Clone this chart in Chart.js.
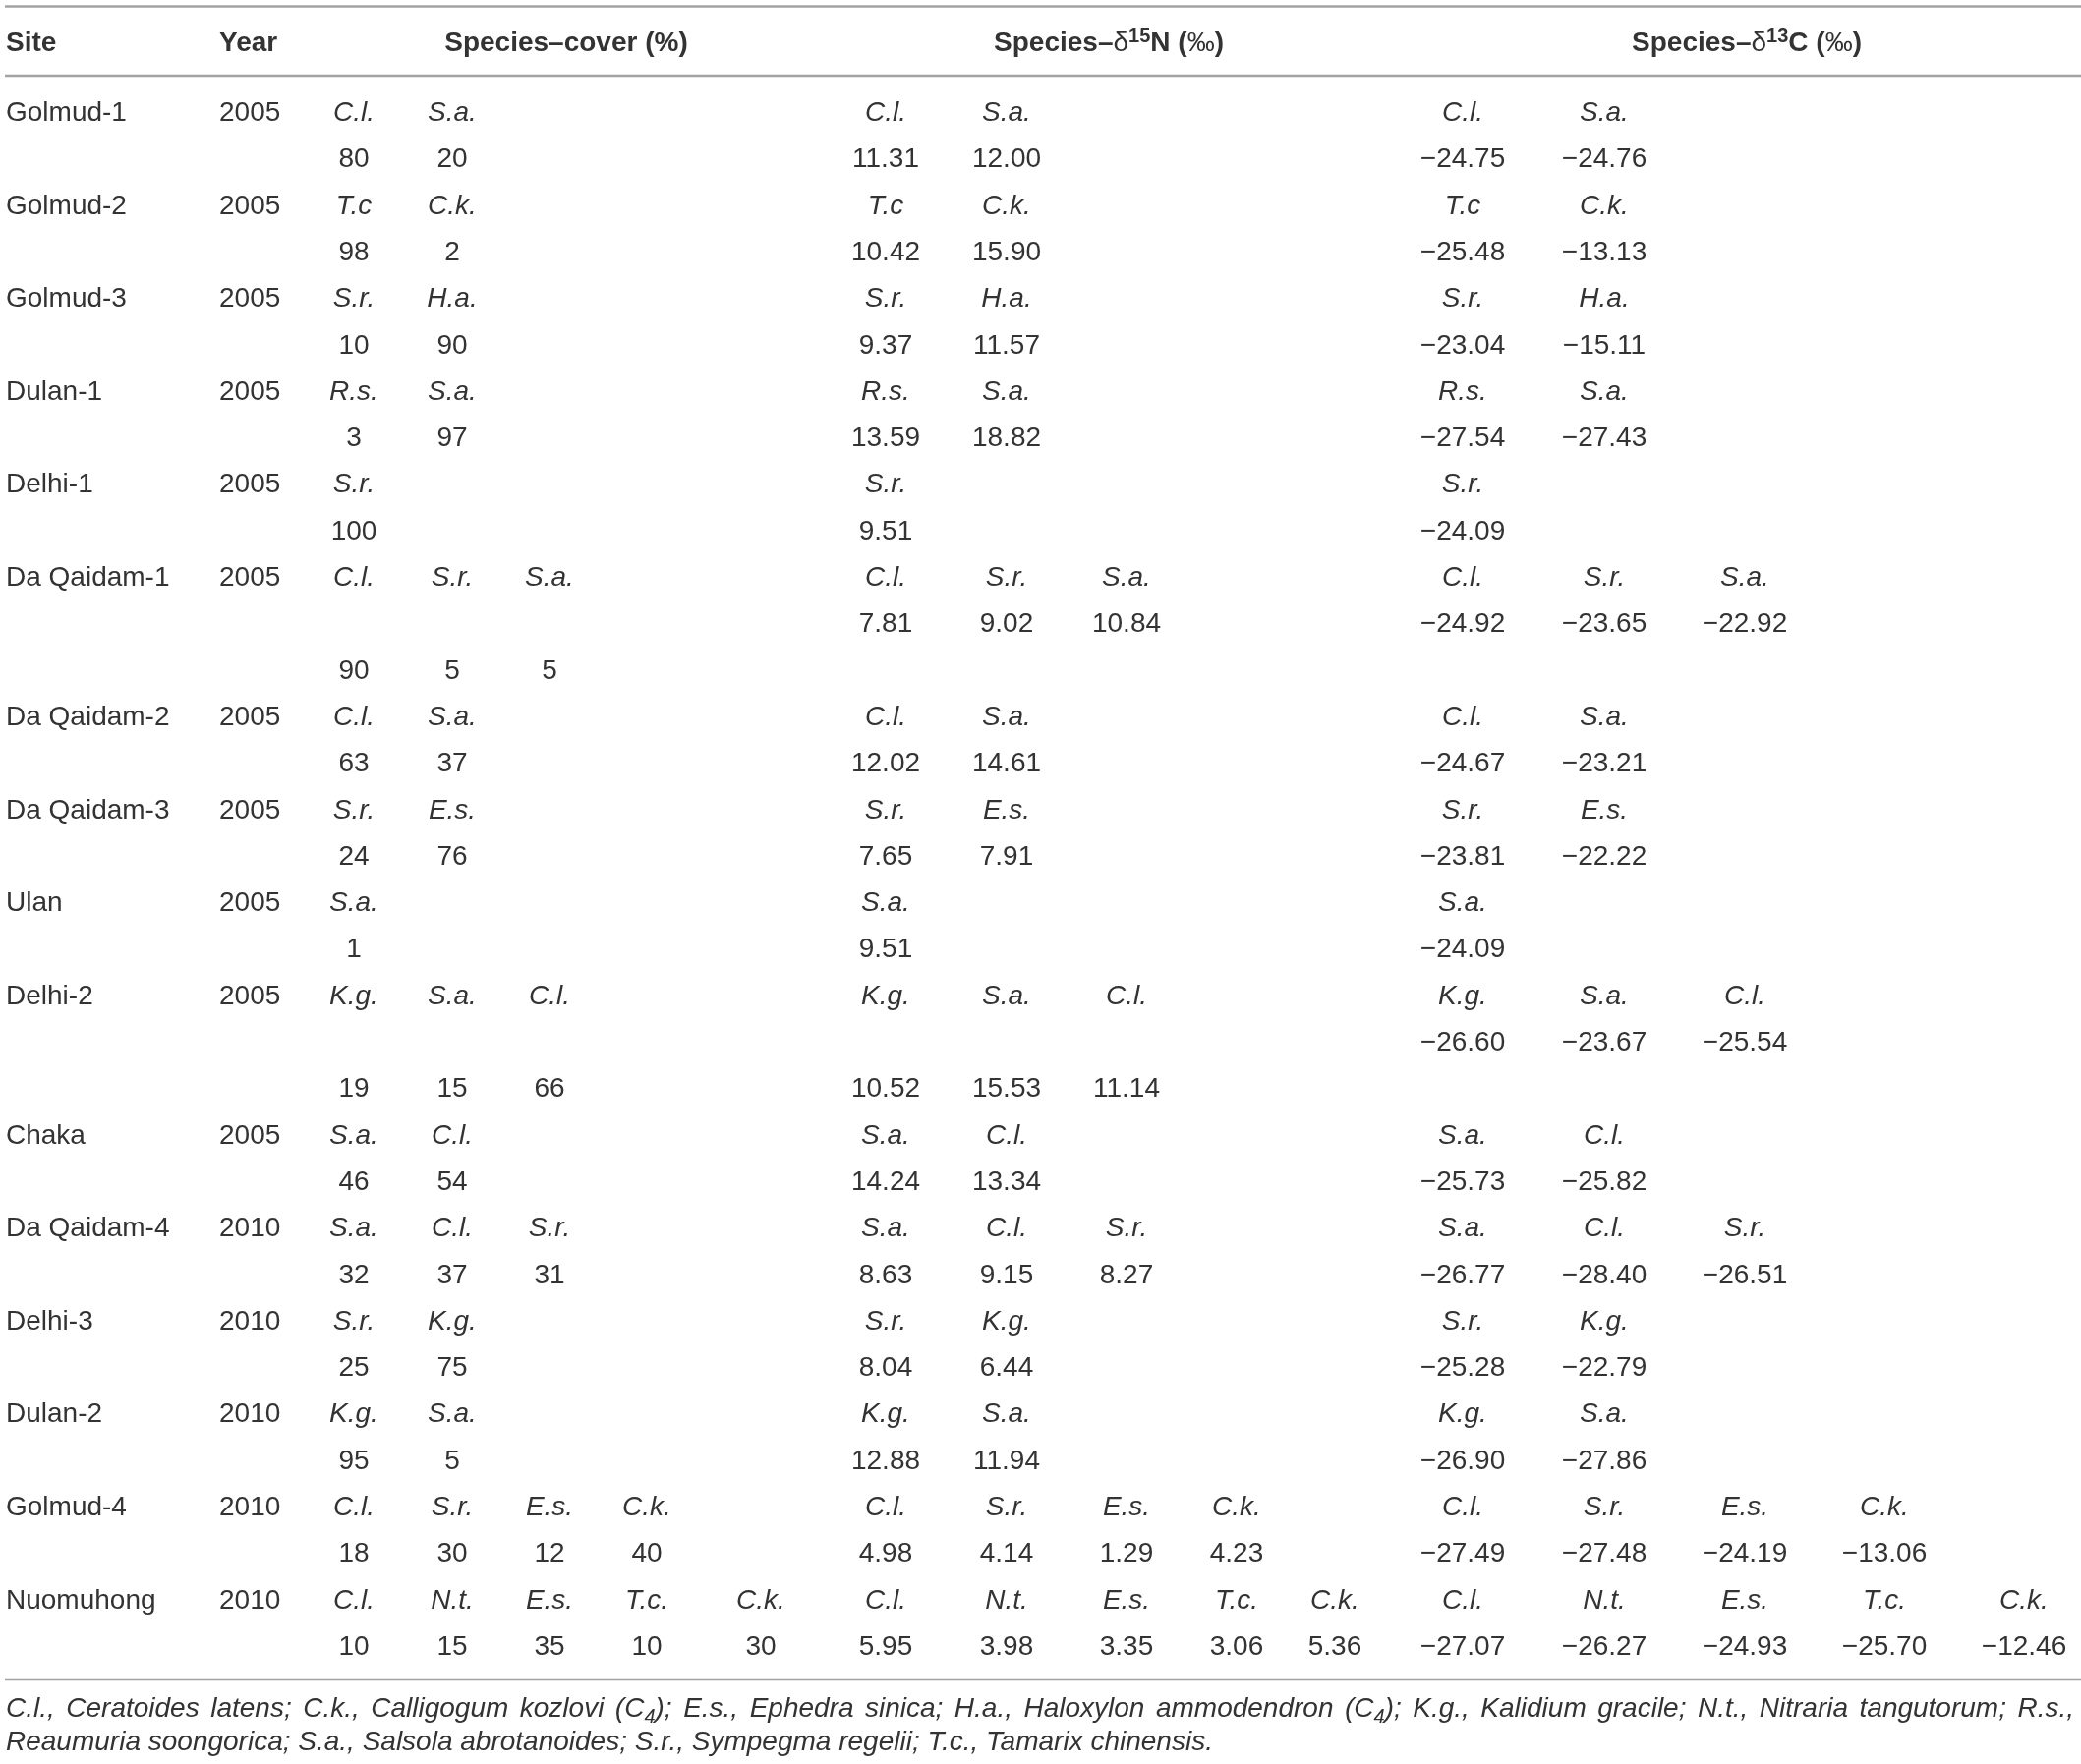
<!DOCTYPE html>
<html>
<head>
<meta charset="utf-8">
<script src="https://cdn.jsdelivr.net/npm/chart.js@4.4.1/dist/chart.umd.min.js"></script>
<style>
  html, body { margin: 0; padding: 0; background: #fff; overflow: hidden; }
  canvas { display: block; }
</style>
</head>
<body>
<canvas id="tableChart" width="2117" height="1795"></canvas>
<script>
// ---- table data ----
const sites = ["Golmud-1", "Golmud-2", "Golmud-3", "Dulan-1", "Delhi-1", "Da Qaidam-1", "Da Qaidam-2",
  "Da Qaidam-3", "Ulan", "Delhi-2", "Chaka", "Da Qaidam-4", "Delhi-3", "Dulan-2", "Golmud-4", "Nuomuhong"];
const years = [2005, 2005, 2005, 2005, 2005, 2005, 2005, 2005, 2005, 2005, 2005, 2010, 2010, 2010, 2010, 2010];
const species = [
  ["C.l.", "S.a."], ["T.c", "C.k."], ["S.r.", "H.a."], ["R.s.", "S.a."], ["S.r."],
  ["C.l.", "S.r.", "S.a."], ["C.l.", "S.a."], ["S.r.", "E.s."], ["S.a."], ["K.g.", "S.a.", "C.l."],
  ["S.a.", "C.l."], ["S.a.", "C.l.", "S.r."], ["S.r.", "K.g."], ["K.g.", "S.a."],
  ["C.l.", "S.r.", "E.s.", "C.k."], ["C.l.", "N.t.", "E.s.", "T.c.", "C.k."]
];
const coverPct = [
  [80, 20], [98, 2], [10, 90], [3, 97], [100], [90, 5, 5], [63, 37], [24, 76], [1], [19, 15, 66],
  [46, 54], [32, 37, 31], [25, 75], [95, 5], [18, 30, 12, 40], [10, 15, 35, 10, 30]
];
const d15N = [
  [11.31, 12.00], [10.42, 15.90], [9.37, 11.57], [13.59, 18.82], [9.51], [7.81, 9.02, 10.84],
  [12.02, 14.61], [7.65, 7.91], [9.51], [10.52, 15.53, 11.14], [14.24, 13.34], [8.63, 9.15, 8.27],
  [8.04, 6.44], [12.88, 11.94], [4.98, 4.14, 1.29, 4.23], [5.95, 3.98, 3.35, 3.06, 5.36]
];
const d13C = [
  [-24.75, -24.76], [-25.48, -13.13], [-23.04, -15.11], [-27.54, -27.43], [-24.09],
  [-24.92, -23.65, -22.92], [-24.67, -23.21], [-23.81, -22.22], [-24.09], [-26.60, -23.67, -25.54],
  [-25.73, -25.82], [-26.77, -28.40, -26.51], [-25.28, -22.79], [-26.90, -27.86],
  [-27.49, -27.48, -24.19, -13.06], [-27.07, -26.27, -24.93, -25.70, -12.46]
];
// lines used by each site, and on which line (0,1,2) the cover / d15N / d13C values sit
const linesPerSite = [2, 2, 2, 2, 2, 3, 2, 2, 2, 3, 2, 2, 2, 2, 2, 2];
const valueLine = [
  [1, 1, 1], [1, 1, 1], [1, 1, 1], [1, 1, 1], [1, 1, 1], [2, 1, 1], [1, 1, 1], [1, 1, 1],
  [1, 1, 1], [2, 2, 1], [1, 1, 1], [1, 1, 1], [1, 1, 1], [1, 1, 1], [1, 1, 1], [1, 1, 1]
];
const headerLabels = ["Site", "Year"];
const footnote = [
  "C.l., Ceratoides latens; C.k., Calligogum kozlovi (C_4); E.s., Ephedra sinica; H.a., Haloxylon ammodendron (C_4); K.g., Kalidium gracile; N.t., Nitraria tangutorum; R.s.,",
  "Reaumuria soongorica; S.a., Salsola abrotanoides; S.r., Sympegma regelii; T.c., Tamarix chinensis."
];

// ---- layout (x in px, y in table lines) ----
const siteX = 6;
const yearX = 223;
const blockCols = [
  [360, 460, 559, 658, 774],
  [901, 1024, 1146, 1258, 1358],
  [1488, 1632, 1775, 1917, 2059]
];
const blockHeaderX = [576, 1128, 1777];
const headerY = -1.50;
const rulesY = [-2.252, -0.761, 33.742];
const footY = [34.33, 35.05];
const TEXT = "#333333";
const RULE = "#a3a3a3";
const FONT = "'Liberation Sans', Arial, Helvetica, sans-serif";

const fmt2 = (v) => v.toFixed(2).replace("-", "\u2212");

// build the cell points
const leftCells = [];
const speciesCells = [];
const valueCells = [];
let line = 0;
sites.forEach((site, s) => {
  leftCells.push({ x: siteX, y: line, text: site });
  leftCells.push({ x: yearX, y: line, text: String(years[s]) });
  species[s].forEach((sp, k) => {
    blockCols.forEach((cols) => speciesCells.push({ x: cols[k], y: line, text: sp }));
    valueCells.push({ x: blockCols[0][k], y: line + valueLine[s][0], text: String(coverPct[s][k]) });
    valueCells.push({ x: blockCols[1][k], y: line + valueLine[s][1], text: fmt2(d15N[s][k]) });
    valueCells.push({ x: blockCols[2][k], y: line + valueLine[s][2], text: fmt2(d13C[s][k]) });
  });
  line += linesPerSite[s];
});

const headerCells = [
  { x: siteX, y: headerY, rich: [{ t: headerLabels[0], w: "bold" }], align: "left" },
  { x: yearX, y: headerY, rich: [{ t: headerLabels[1], w: "bold" }], align: "left" },
  { x: blockHeaderX[0], y: headerY, rich: [{ t: "Species\u2013cover (%)", w: "bold" }] },
  { x: blockHeaderX[1], y: headerY, rich: [{ t: "Species\u2013", w: "bold" }, { t: "\u03b4", w: "normal" },
    { t: "15", w: "bold", sup: true }, { t: "N (", w: "bold" }, { t: "\u2030", w: "normal" }, { t: ")", w: "bold" }] },
  { x: blockHeaderX[2], y: headerY, rich: [{ t: "Species\u2013", w: "bold" }, { t: "\u03b4", w: "normal" },
    { t: "13", w: "bold", sup: true }, { t: "C (", w: "bold" }, { t: "\u2030", w: "normal" }, { t: ")", w: "bold" }] }
];

function richFromText(str) {
  // "C_4" -> subscript 4
  const parts = str.split(/_(\d)/);
  return parts.map((p, i) => (i % 2 ? { t: p, w: "normal", sub: true } : { t: p, w: "normal" }));
}
const footCells = footnote.map((txt, i) => ({
  x: siteX, y: footY[i], rich: richFromText(txt), align: "left", italic: true, justify: i === 0 ? 2110 : 0
}));

function ruleDataset(y) {
  return {
    type: "line", data: [{ x: 5, y: y }, { x: 2117, y: y }],
    borderColor: RULE, borderWidth: 2.4, pointRadius: 0, showLine: true, clip: false
  };
}

// draws the text of the cell datasets at the element positions
const cellText = {
  id: "cellText",
  afterDatasetsDraw(chart) {
    const ctx = chart.ctx;
    ctx.save();
    ctx.fillStyle = TEXT;
    ctx.textBaseline = "alphabetic";
    chart.data.datasets.forEach((ds, i) => {
      if (!ds.cellStyle) return;
      const meta = chart.getDatasetMeta(i);
      meta.data.forEach((el, j) => {
        const cell = ds.data[j];
        if (ds.cellStyle === "rich") {
          drawRich(ctx, cell, el.x, el.y, ds.size);
        } else {
          ctx.font = (ds.cellStyle === "italic" ? "italic " : "") + ds.size + "px " + FONT;
          ctx.textAlign = ds.align;
          ctx.fillText(cell.text, el.x, el.y + ds.size * 0.36);
        }
      });
    });
    ctx.restore();
  }
};

function segFont(seg, size, italic) {
  const s = seg.sup || seg.sub ? Math.round(size * 0.7) : size;
  return (italic ? "italic " : "") + (seg.w === "bold" ? "bold " : "") + s + "px " + FONT;
}

function drawRich(ctx, cell, x, y, size) {
  const segs = cell.rich;
  const widths = segs.map((seg) => { ctx.font = segFont(seg, size, cell.italic); return ctx.measureText(seg.t).width; });
  let total = widths.reduce((a, b) => a + b, 0);
  let gap = 0;
  if (cell.justify) {
    const spaces = segs.reduce((n, seg) => n + (seg.t.match(/ /g) || []).length, 0);
    gap = spaces ? (cell.justify - x - total) / spaces : 0;
  }
  let cx = cell.align === "left" ? x : x - total / 2;
  const base = y + size * 0.36;
  ctx.textAlign = "left";
  segs.forEach((seg, k) => {
    ctx.font = segFont(seg, size, cell.italic);
    const dy = seg.sup ? -size * 0.33 : seg.sub ? size * 0.2 : 0;
    if (gap && seg.t.includes(" ")) {
      seg.t.split(/( )/).forEach((piece) => {
        if (piece === " ") { cx += ctx.measureText(" ").width + gap; return; }
        ctx.fillText(piece, cx, base + dy);
        cx += ctx.measureText(piece).width;
      });
    } else {
      ctx.fillText(seg.t, cx, base + dy);
      cx += widths[k];
    }
  });
}

const ctx = document.getElementById("tableChart").getContext("2d");
new Chart(ctx, {
  type: "scatter",
  data: {
    datasets: [
      { data: leftCells, cellStyle: "plain", align: "left", size: 28, pointRadius: 0 },
      { data: speciesCells, cellStyle: "italic", align: "center", size: 28, pointRadius: 0 },
      { data: valueCells, cellStyle: "plain", align: "center", size: 28, pointRadius: 0 },
      { data: headerCells, cellStyle: "rich", size: 28, pointRadius: 0 },
      { data: footCells, cellStyle: "rich", size: 28, pointRadius: 0 },
      ...rulesY.map(ruleDataset)
    ]
  },
  options: {
    responsive: false,
    devicePixelRatio: 1,
    animation: false,
    events: [],
    layout: { padding: 0 },
    plugins: { legend: { display: false }, tooltip: { enabled: false } },
    scales: {
      x: { type: "linear", display: false, min: 0, max: 2117 },
      y: { type: "linear", display: false, min: -2.389, max: 35.56, reverse: true }
    }
  },
  plugins: [cellText]
});
</script>
</body>
</html>
